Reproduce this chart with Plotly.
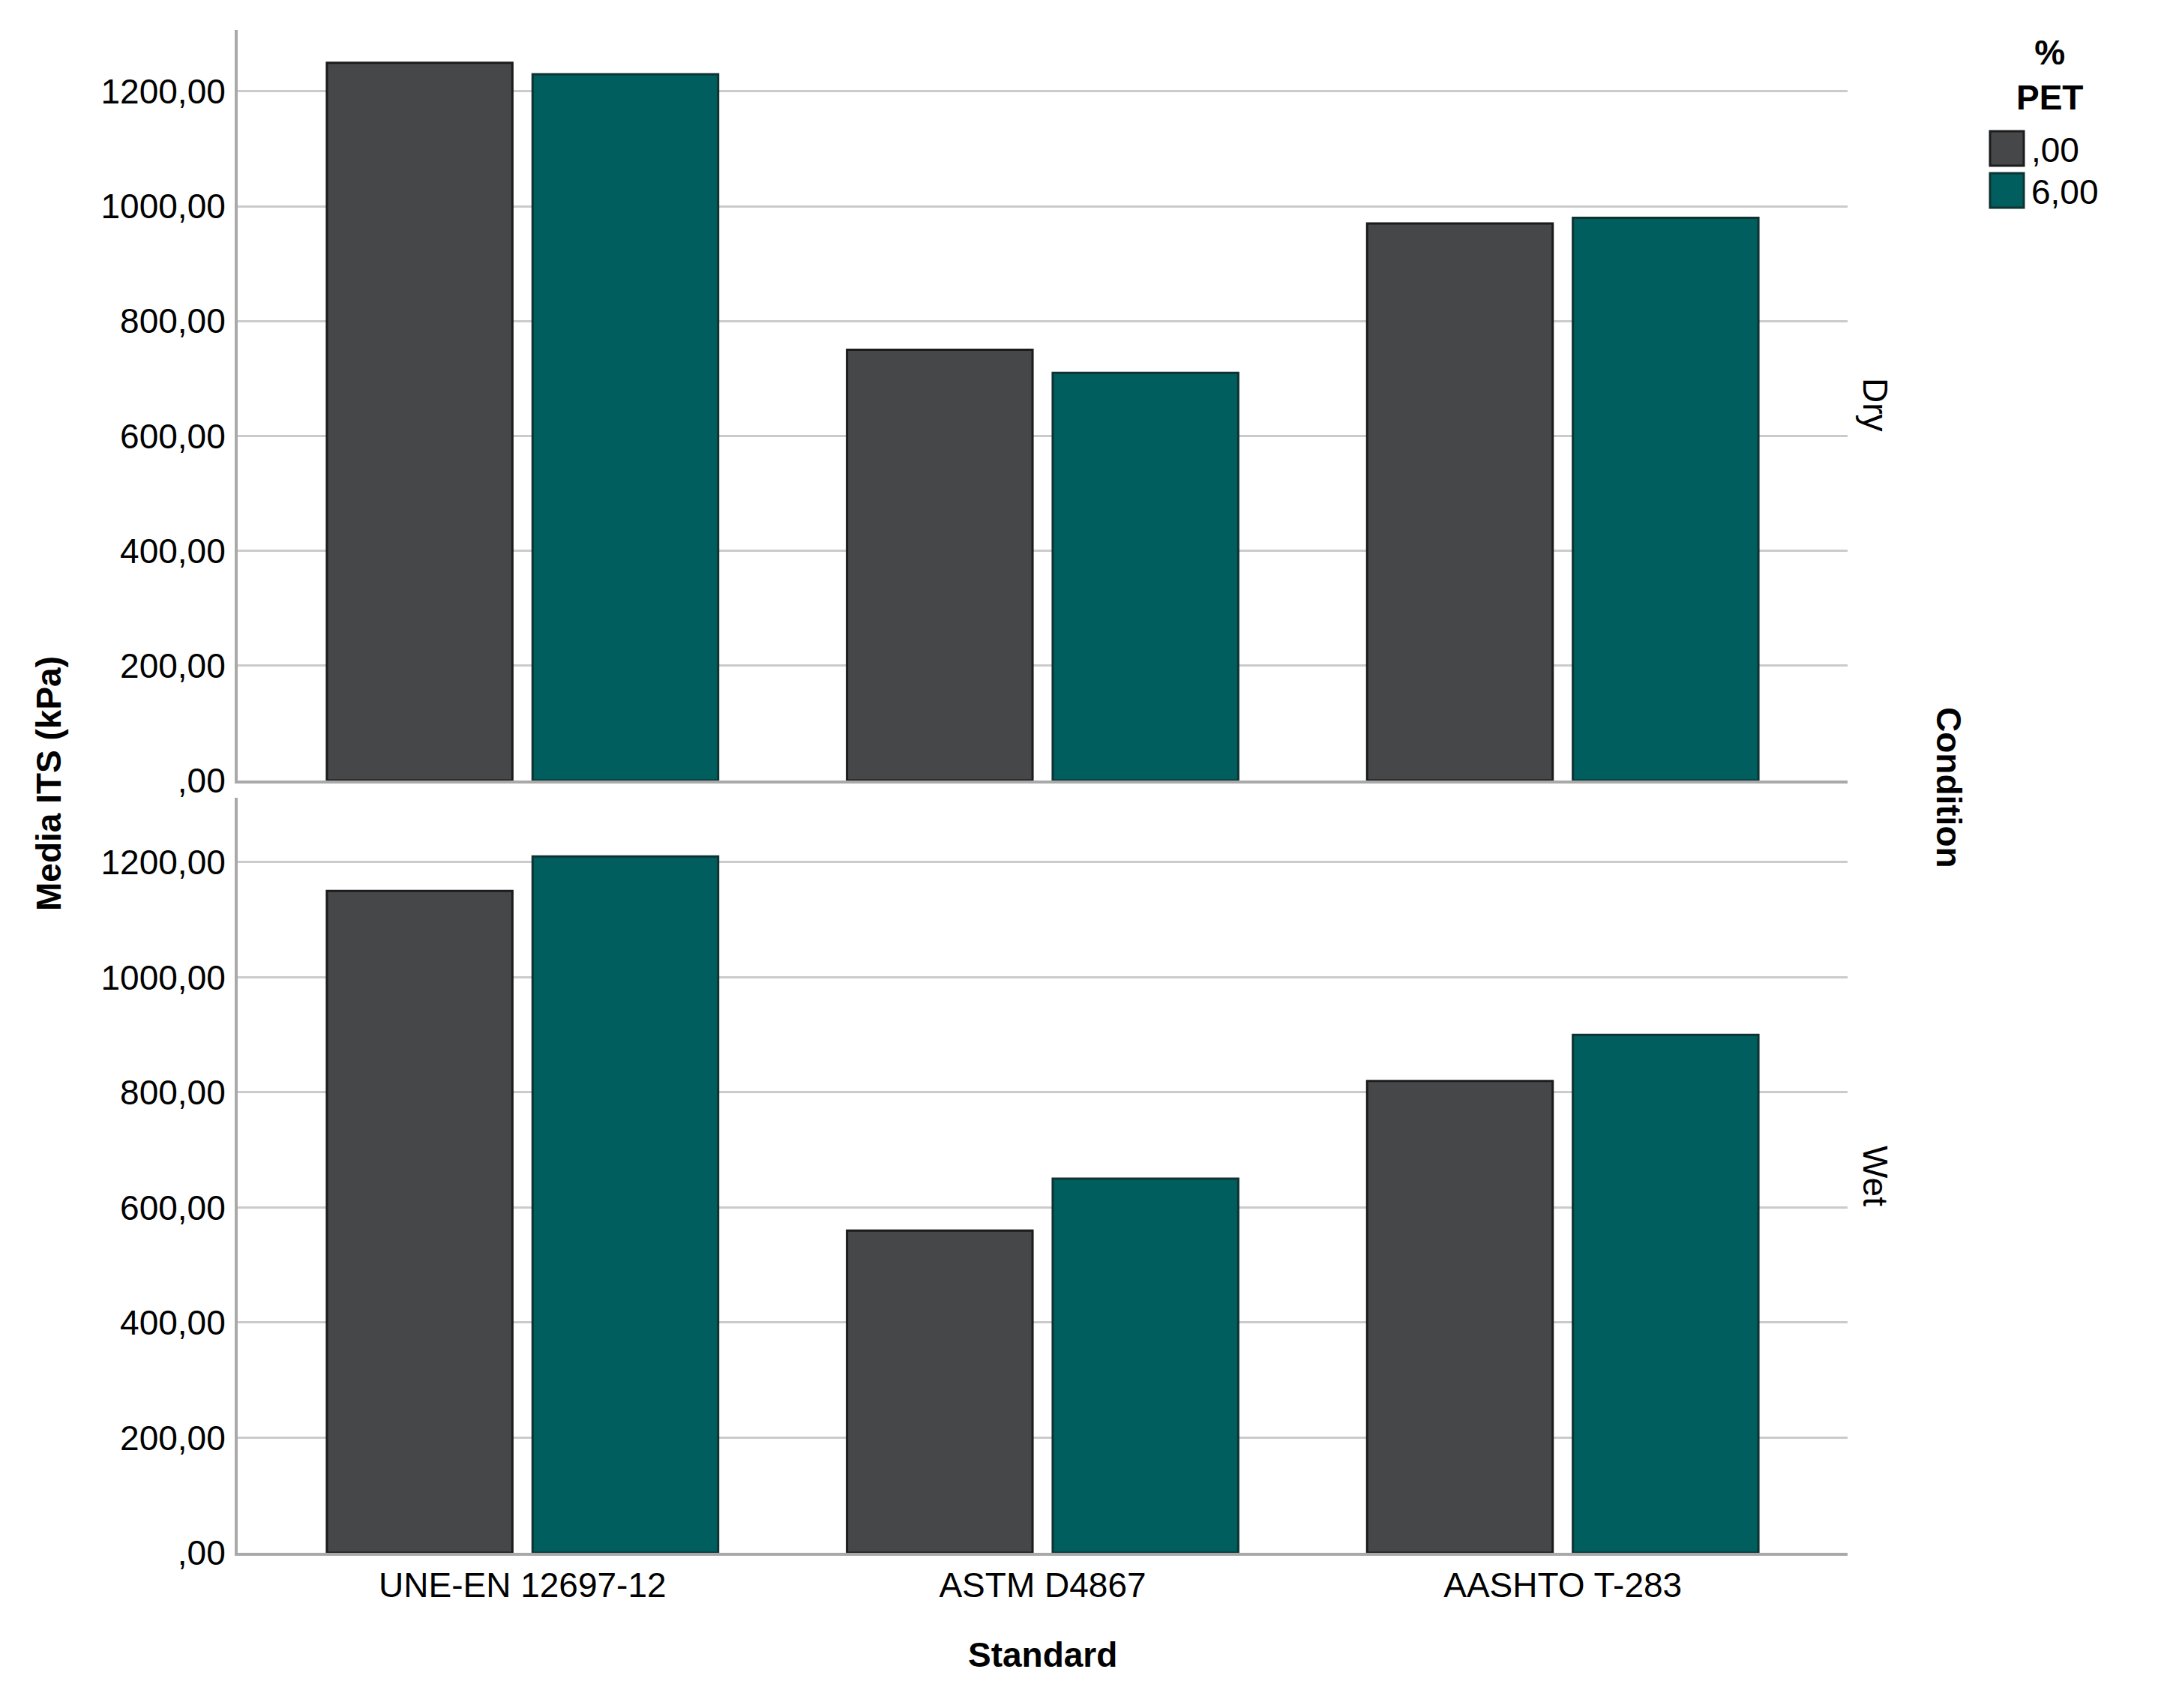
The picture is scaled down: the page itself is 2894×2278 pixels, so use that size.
import plotly.graph_objects as go

# ---- data ----
standards = ["UNE-EN 12697-12", "ASTM D4867", "AASHTO T-283"]
pet_levels = [",00", "6,00"]
conditions = ["Dry", "Wet"]
dry_pet0 = [1250, 750, 970]
dry_pet6 = [1230, 710, 980]
wet_pet0 = [1150, 560, 820]
wet_pet6 = [1210, 650, 900]
tick_vals = [0, 200, 400, 600, 800, 1000, 1200]
tick_text = [",00", "200,00", "400,00", "600,00", "800,00", "1000,00", "1200,00"]

colors = ["#464749", "#005e5e"]
outline = ["#1c1c1c", "#0f3333"]

W, H = 2894, 2278
H_EFF = 2252  # effective rendered height observed in the screenshot


def px(x):
    return x / W


def py(y):
    return 1 - y / H_EFF


FONT = "Liberation Sans, Arial, Helvetica, sans-serif"
FS = 46

fig = go.Figure()

panels = [("x", "y", [dry_pet0, dry_pet6]), ("x2", "y2", [wet_pet0, wet_pet6])]
for xa, ya, series in panels:
    for i, vals in enumerate(series):
        fig.add_trace(go.Bar(
            x=standards, y=vals, name=pet_levels[i],
            marker=dict(color=colors[i], line=dict(color=outline[i], width=3)),
            xaxis=xa, yaxis=ya, showlegend=False,
            hovertemplate="%{x}<br>%{y}<extra>" + pet_levels[i] + "</extra>",
        ))

xdom = [px(317), px(2464)]
xrange = [-0.5 - 33 / 694, 2.5 + 33 / 694]
axis_line = "#a9a9a9"
grid = "#cbcbcb"

common_x = dict(
    domain=xdom, range=xrange, showline=True, linecolor=axis_line, linewidth=4,
    showgrid=False, zeroline=False, ticks="", type="category",
    tickfont=dict(family=FONT, size=FS, color="black"),
)
common_y = dict(
    showline=True, linecolor=axis_line, linewidth=4, showgrid=True,
    gridcolor=grid, gridwidth=3, zeroline=False, ticks="",
    tickvals=tick_vals, ticktext=tick_text, ticklabelstandoff=3,
    tickfont=dict(family=FONT, size=FS, color="black"),
)

fig.update_layout(
    width=W, height=H,
    margin=dict(l=0, r=0, t=0, b=0),
    paper_bgcolor="white", plot_bgcolor="white",
    barmode="group", bargap=0.209, bargroupgap=0.098,
    font=dict(family=FONT, size=FS, color="black"),
    xaxis=dict(anchor="y", showticklabels=False, **common_x),
    xaxis2=dict(anchor="y2", showticklabels=True, ticklabelstandoff=0, **common_x),
    yaxis=dict(anchor="x", domain=[py(1041), py(40)], range=[0, 1307], **common_y),
    yaxis2=dict(anchor="x2", domain=[py(2071), py(1064)], range=[0, 1312], **common_y),
)

annotations = [
    dict(text="<b>Media ITS (kPa)</b>", x=px(65), y=py(1045), textangle=-90),
    dict(text="<b>Standard</b>", x=px(1390), y=py(2207), textangle=0),
    dict(text="<b>Condition</b>", x=px(2599), y=py(1050), textangle=90),
    dict(text=conditions[0], x=px(2501), y=py(540), textangle=90),
    dict(text=conditions[1], x=px(2501), y=py(1568), textangle=90),
    dict(text="<b>%<br>PET</b>", x=px(2733), y=py(100), textangle=0),
]
for a in annotations:
    fig.add_annotation(xref="paper", yref="paper", showarrow=False,
                       xanchor="center", yanchor="middle",
                       font=dict(family=FONT, size=FS, color="black"), **a)

# legend (custom, to match the large swatches)
leg_rows = [(175, 221), (231, 277)]
for i, (y0, y1) in enumerate(leg_rows):
    fig.add_shape(type="rect", xref="paper", yref="paper",
                  x0=px(2654), x1=px(2699), y0=py(y1), y1=py(y0),
                  fillcolor=colors[i], line=dict(color=outline[i], width=3))
    fig.add_annotation(xref="paper", yref="paper", showarrow=False,
                       xanchor="left", yanchor="middle",
                       x=px(2707), y=py((y0 + y1) / 2 + 2), text=pet_levels[i],
                       font=dict(family=FONT, size=FS, color="black"))

fig.write_html(
    "out.html",
    config={"displayModeBar": False},
    post_script="document.body.style.margin='0';document.body.style.overflow='hidden';",
)
